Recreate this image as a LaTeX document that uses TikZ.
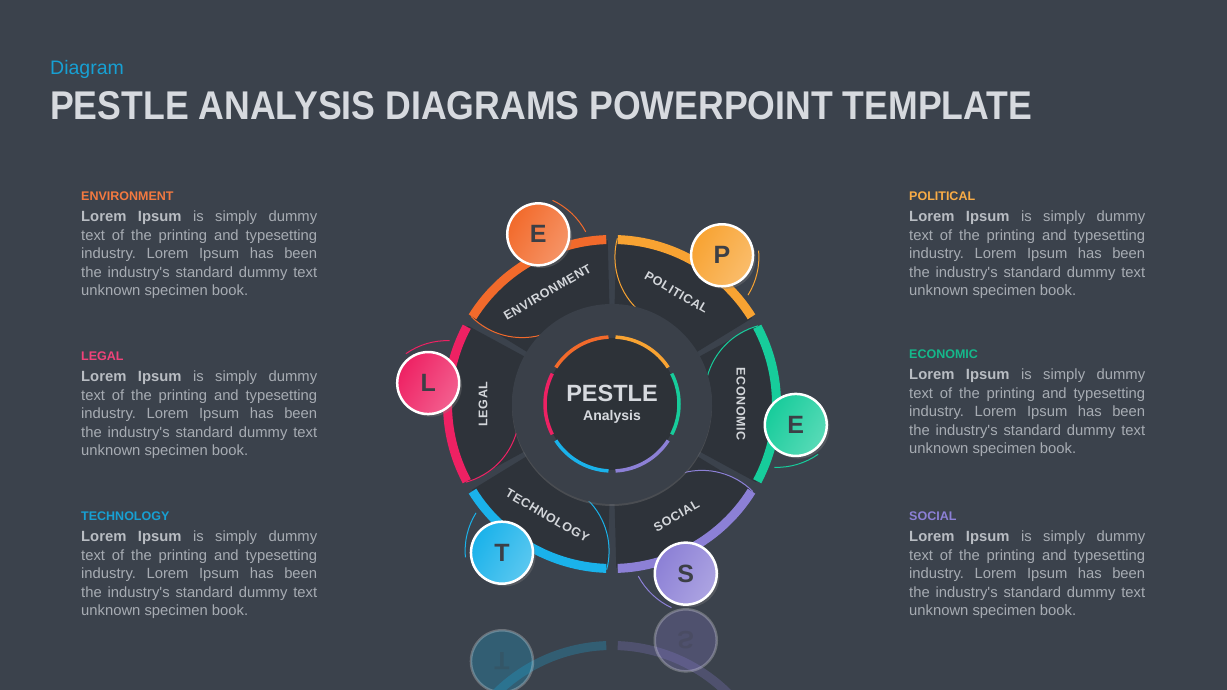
\documentclass[tikz,border=0pt]{standalone}
\usepackage{fontspec}
\usepackage{graphicx}
\setmainfont{Liberation Sans}
\usetikzlibrary{positioning,calc,shadows}
\definecolor{bgcol}{HTML}{3B424C}
\definecolor{hubcol}{HTML}{3A4049}
\definecolor{segcol}{HTML}{2E333A}
\definecolor{corecol}{HTML}{2D3238}
\definecolor{labcol}{HTML}{D3D6DA}
\definecolor{bodycol}{HTML}{A7ACB3}
\definecolor{boldcol}{HTML}{B9BDC3}
\definecolor{titlecol}{HTML}{D7DADF}
\definecolor{lettercol}{HTML}{3C3F46}
\definecolor{envcol}{HTML}{F26A2B}
\definecolor{polcol}{HTML}{F8A332}
\definecolor{ecocol}{HTML}{17CC9B}
\definecolor{soccol}{HTML}{8C80D6}
\definecolor{teccol}{HTML}{1AB2EA}
\definecolor{legcol}{HTML}{EE2163}
\tikzset{
  segment/.style={fill=segcol},
  rim/.style={line width=9pt},
  thinarc/.style={line width=1pt},
  ringarc/.style={line width=3.5pt},
  badge/.style={circle,draw=white,line width=2.5pt,minimum size=62pt,inner sep=0pt,
    font=\fontsize{25}{25}\selectfont\bfseries,text=lettercol},
  seglabel/.style={font=\fontsize{12.5}{12}\selectfont\bfseries\addfontfeatures{LetterSpace=5},
    text=labcol,inner sep=0pt},
  head/.style={anchor=base west,inner sep=0pt,font=\fontsize{12.5}{14}\selectfont\bfseries},
  body/.style={anchor=north west,inner sep=0pt,text width=236pt,align=justify,
    text=bodycol,font=\fontsize{14.8}{18.6}\selectfont\frenchspacing},
}
\newcommand{\lorem}{\strut\textcolor{boldcol}{\textbf{Lorem Ipsum}} is simply dummy\linebreak
  text of the printing and typesetting\linebreak industry. Lorem Ipsum has been\linebreak
  the industry\textquotesingle s standard dummy text\linebreak unknown specimen book.}

\begin{document}
\begin{tikzpicture}[x=1pt,y=1pt]
  \useasboundingbox (0,0) rectangle (1227,690);
  \fill[bgcol] (0,0) rectangle (1227,690);

  % title
  \node[anchor=base west,inner sep=0pt,text=teccol!90!black,font=\fontsize{19.5}{20}\selectfont] (kind) at (50,615) {Diagram};
  \node[anchor=base west,inner sep=0pt,text=titlecol] (title) at (50,570)
    {\resizebox{982pt}{28pt}{\bfseries PESTLE ANALYSIS DIAGRAMS POWERPOINT TEMPLATE}};

  % wheel
  \begin{scope}[shift={(612,286)}]
    \foreach \m in {120,60,0,-60,-120,180}
      \fill[segment] (\m+28.5:96pt) arc[start angle=\m+28.5,end angle=\m-28.5,radius=96pt]
        -- (\m-28.5:164pt) arc[start angle=\m-28.5,end angle=\m+28.5,radius=164pt] -- cycle;
    \foreach \m/\c in {120/envcol,60/polcol,0/ecocol,-60/soccol,-120/teccol,180/legcol}
      \draw[thinarc,color=\c] (\m+3:165pt) ++(\m+105:72pt) arc[start angle=\m+105,end angle=\m+200,radius=72pt];
    \fill[hubcol,drop shadow={opacity=0.35,shadow xshift=0pt,shadow yshift=-2pt}] (0,0) circle[radius=100pt];
    \fill[corecol] (0,0) circle[radius=66pt];
    \foreach \m/\c in {120/envcol,60/polcol,0/ecocol,-60/soccol,-120/teccol,180/legcol}{
      \draw[ringarc,color=\c] (\m+27:67pt) arc[start angle=\m+27,end angle=\m-27,radius=67pt];
      \draw[rim,color=\c] (\m+28:164.5pt) arc[start angle=\m+28,end angle=\m-28,radius=164.5pt];
      \draw[thinarc,color=\c] (\m+3:165pt) ++(\m-92:72pt) arc[start angle=\m-92,end angle=\m-55,radius=72pt];
    }
    \foreach \m/\c/\t/\n in {120/envcol/E/env,60/polcol/P/pol,0/ecocol/E/eco,-60/soccol/S/soc,-120/teccol/T/tec,180/legcol/L/leg}
      \node[badge,left color=\c,right color=\c!72!white,shading angle=60,
        drop shadow={opacity=0.35}] (b\n) at (\m-6.5:185pt) {\t};
    \foreach \m/\l/\r/\n in {120/ENVIRONMENT/30/env,60/POLITICAL/-30/pol,0/ECONOMIC/-90/eco,
        -60/SOCIAL/30/soc,-120/TECHNOLOGY/-30/tec,180/LEGAL/90/leg}
      \node[seglabel,rotate=\r] (l\n) at (\m:129pt) {\l};
    \node[font=\fontsize{23.5}{24}\selectfont\bfseries,text=titlecol,inner sep=0pt] (core) at (0,11) {PESTLE};
    \node[font=\fontsize{14}{14}\selectfont\bfseries,text=titlecol,inner sep=0pt,below=9pt of core] (sub) {Analysis};
  \end{scope}

  % reflection
  \begin{scope}[opacity=0.25]
    \clip (0,0) rectangle (1227,83);
    \begin{scope}[yshift=166pt,yscale=-1,shift={(612,286)}]
      \draw[rim,color=teccol] (-92:164.5pt) arc[start angle=-92,end angle=-148,radius=164.5pt];
      \draw[rim,color=soccol] (-32:164.5pt) arc[start angle=-32,end angle=-88,radius=164.5pt];
      \node[badge,fill=teccol,transform shape] (rtec) at (-126.5:185pt) {T};
      \node[badge,fill=soccol,transform shape] (rsoc) at (-66.5:185pt) {S};
    \end{scope}
  \end{scope}

  % left column
  \node[head,text=envcol!90!white] (envh) at (81,489) {ENVIRONMENT};
  \node[body,below=7pt of envh.south west,anchor=north west] (envt) {\lorem};
  \node[head,text=legcol!85!white] (legh) at (81,329) {LEGAL};
  \node[body,below=7pt of legh.south west,anchor=north west] (legt) {\lorem};
  \node[head,text=teccol!90!black] (tech) at (81,169) {TECHNOLOGY};
  \node[body,below=7pt of tech.south west,anchor=north west] (tect) {\lorem};

  % right column
  \node[head,text=polcol!90!white] (polh) at (909,489) {POLITICAL};
  \node[body,below=7pt of polh.south west,anchor=north west] (polt) {\lorem};
  \node[head,text=ecocol!90!black] (ecoh) at (909,331) {ECONOMIC};
  \node[body,below=7pt of ecoh.south west,anchor=north west] (ecot) {\lorem};
  \node[head,text=soccol] (soch) at (909,169) {SOCIAL};
  \node[body,below=7pt of soch.south west,anchor=north west] (soct) {\lorem};
\end{tikzpicture}
\end{document}
